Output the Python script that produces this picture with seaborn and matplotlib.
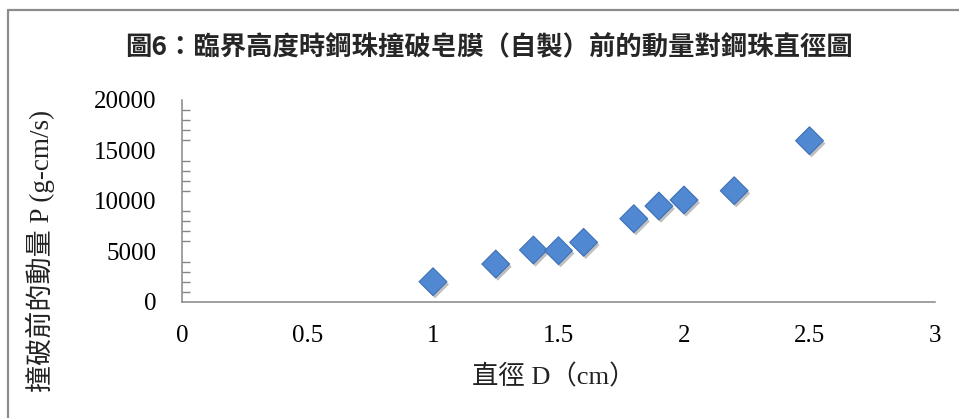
import matplotlib
matplotlib.use("Agg")
import matplotlib.pyplot as plt
import matplotlib.patheffects as pe
from matplotlib.lines import Line2D
from matplotlib.ticker import MultipleLocator
import pandas as pd
import seaborn as sns

# Steel-ball diameter (cm) and momentum before breaking the soap film (g-cm/s)
diameter = [1.0, 1.25, 1.4, 1.5, 1.6, 1.8, 1.9, 2.0, 2.2, 2.5]
momentum = [2010, 3760, 5150, 5080, 5910, 8250, 9500, 10100, 11020, 15970]

title = "圖6：臨界高度時鋼珠撞破皂膜（自製）前的動量對鋼珠直徑圖"
xlabel = "直徑 D（cm）"
ylabel = "撞破前的動量 P (g-cm/s)"
xticks = [0, 0.5, 1, 1.5, 2, 2.5, 3]
xtick_labels = ["0", "0.5", "1", "1.5", "2", "2.5", "3"]
yticks = [0, 5000, 10000, 15000, 20000]
ytick_labels = ["0", "5000", "10000", "15000", "20000"]

df = pd.DataFrame({"D": diameter, "P": momentum})

sns.set_theme(style="white")
plt.rcParams["font.family"] = ["Liberation Serif", "Noto Sans CJK TC", "DejaVu Sans"]

W, H, DPI = 959, 418, 100
fig = plt.figure(figsize=(W / DPI, H / DPI), dpi=DPI)
fig.patch.set_facecolor("white")

ax = fig.add_axes([182 / W, 1 - 302 / H, (935 - 182) / W, (302 - 100) / H])

axis_gray = "#868686"

sns.scatterplot(
    data=df, x="D", y="P", ax=ax, marker="D", s=200,
    color="#5089D2", edgecolor="#3E70B8", linewidth=0.8, zorder=3,
)
for coll in ax.collections:
    coll.set_path_effects([
        pe.SimplePatchShadow(offset=(1.5, -2), shadow_rgbFace="black", alpha=0.25),
        pe.Normal(),
    ])

ax.set_xlim(0, 3)
ax.set_ylim(0, 20000)
ax.set_xticks(xticks)
ax.set_xticklabels(xtick_labels)
ax.set_yticks(yticks)
ax.set_yticklabels(ytick_labels)
ax.yaxis.set_minor_locator(MultipleLocator(1000))

for side in ("top", "right"):
    ax.spines[side].set_visible(False)
for side in ("left", "bottom"):
    ax.spines[side].set_color(axis_gray)
    ax.spines[side].set_linewidth(1.1)

ax.tick_params(axis="both", which="major", direction="inout", length=13,
               width=1.1, color=axis_gray, labelsize=18, labelcolor="black")
ax.tick_params(axis="y", which="major", pad=12)
ax.tick_params(axis="x", which="major", pad=10)
ax.tick_params(axis="y", which="minor", direction="in", length=6,
               width=1.0, color=axis_gray, left=True)
ax.grid(False)
ax.set_xlabel("")
ax.set_ylabel("")

# Axis titles
fig.text(554 / W, 1 - 377 / H, xlabel, ha="center", va="center",
         fontsize=19, color="#222222")
fig.text(40 / W, 1 - 251 / H, ylabel, ha="center", va="center",
         rotation=90, fontsize=19.5, color="#222222")

fig.text(489 / W, 1 - 48 / H, title, ha="center", va="center",
         fontsize=19, fontweight="bold",
         family=["Noto Sans CJK TC", "DejaVu Sans"])

# Chart-area frame (top and left edges)
fx, fy = 8 / W, 1 - 10 / H
fig.add_artist(Line2D([fx, 1.0], [fy, fy], transform=fig.transFigure,
                      color="#8c8c8c", linewidth=1.6))
fig.add_artist(Line2D([fx, fx], [fy, 0.0], transform=fig.transFigure,
                      color="#8c8c8c", linewidth=1.6))

fig.savefig("out.png", dpi=DPI, facecolor="white")
